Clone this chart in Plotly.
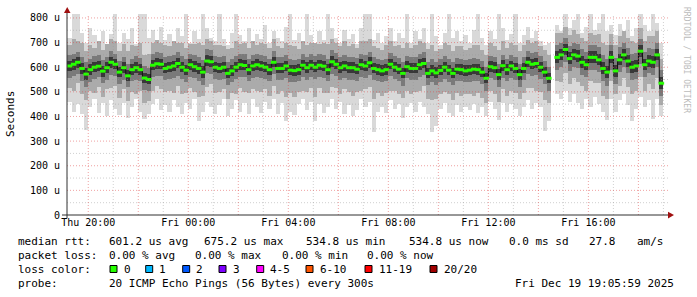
import plotly.graph_objects as go
import pandas as pd

# ---------------- data (values in microseconds) ----------------
T_START = "2025-12-18 19:10"     # first 10-minute sample
X_RANGE = ["2025-12-18 19:09", "2025-12-19 19:11"]

median = [605, 612, 620, 595, 572, 590, 600, 604, 584, 598, 620, 612,
          580, 598, 565, 590, 598, 590, 556, 550, 608, 614, 612, 595,
          600, 605, 615, 600, 588, 610, 602, 595, 580, 625, 622, 600,
          595, 600, 575, 585, 600, 610, 607, 590, 605, 610, 605, 600,
          590, 620, 595, 595, 605, 588, 586, 590, 608, 598, 608, 600,
          608, 604, 590, 622, 612, 598, 605, 598, 598, 592, 610, 605,
          618, 595, 590, 585, 590, 612, 600, 592, 575, 602, 595, 595,
          610, 615, 575, 585, 577, 587, 600, 588, 575, 592, 590, 585,
          588, 592, 590, 580, 555, 602, 598, 570, 606, 590, 605, 595,
          570, 595, 620, 612, 615, 600, 580, 555, None, 640, 650, 672,
          635, 650, 645, 620, 610, 640, 640, 630, 595, 580, 640, 585,
          630, 650, 625, 600, 605, 665, 610, 625, 620, 650, 535]

p40 = [585, 590, 598, 572, 550, 568, 580, 585, 562, 578, 598, 592,
       560, 578, 545, 570, 578, 570, 535, 530, 588, 594, 592, 575,
       580, 585, 595, 580, 568, 590, 582, 572, 558, 603, 600, 580,
       575, 580, 555, 565, 580, 590, 587, 570, 585, 590, 585, 580,
       570, 600, 575, 575, 585, 568, 566, 570, 588, 578, 588, 580,
       588, 584, 570, 602, 592, 578, 585, 578, 578, 572, 590, 585,
       598, 575, 570, 565, 570, 592, 580, 572, 555, 582, 575, 575,
       590, 595, 555, 565, 557, 567, 580, 568, 555, 572, 570, 565,
       568, 572, 570, 560, 535, 582, 578, 550, 586, 570, 585, 575,
       550, 575, 600, 592, 595, 580, 560, 535, None, 618, 628, 650,
       612, 628, 622, 598, 588, 618, 618, 608, 572, 556, 618, 562,
       608, 628, 602, 578, 582, 642, 588, 602, 598, 628, 512]

p60 = [625, 632, 640, 618, 595, 612, 622, 625, 606, 620, 640, 632,
       602, 620, 588, 612, 620, 612, 578, 572, 630, 636, 634, 618,
       622, 627, 637, 622, 610, 632, 624, 618, 605, 648, 645, 622,
       617, 622, 598, 608, 622, 632, 629, 612, 627, 632, 627, 622,
       612, 642, 617, 617, 627, 610, 608, 612, 630, 620, 630, 622,
       630, 626, 612, 644, 634, 620, 627, 620, 620, 614, 632, 627,
       640, 617, 612, 607, 612, 634, 622, 614, 598, 624, 617, 617,
       632, 637, 598, 608, 600, 610, 622, 610, 598, 614, 612, 607,
       610, 614, 612, 602, 578, 624, 620, 592, 628, 612, 627, 617,
       592, 617, 642, 634, 637, 622, 602, 578, None, 665, 675, 695,
       660, 675, 670, 645, 635, 665, 665, 655, 620, 605, 665, 610,
       655, 675, 650, 625, 630, 690, 635, 650, 645, 675, 562]

p25 = [558, 565, 572, 545, 520, 540, 552, 560, 535, 550, 570, 565,
       532, 550, 518, 542, 550, 545, 508, 502, 560, 566, 565, 548,
       552, 558, 566, 552, 540, 562, 555, 542, 528, 575, 572, 552,
       548, 552, 528, 538, 552, 562, 560, 542, 558, 562, 558, 552,
       542, 572, 548, 548, 555, 540, 538, 542, 560, 550, 560, 552,
       560, 556, 542, 574, 565, 550, 558, 550, 550, 545, 562, 558,
       570, 548, 542, 538, 542, 565, 552, 545, 525, 555, 548, 548,
       562, 568, 528, 538, 528, 540, 552, 540, 528, 545, 542, 538,
       540, 545, 542, 532, 505, 555, 550, 520, 558, 542, 558, 548,
       520, 548, 572, 565, 568, 552, 532, 505, None, 590, 600, 622,
       585, 600, 595, 570, 560, 590, 590, 580, 542, 525, 590, 532,
       580, 600, 575, 548, 552, 615, 560, 575, 570, 600, 485]

p75 = [648, 655, 662, 640, 622, 635, 645, 650, 630, 642, 665, 655,
       625, 642, 612, 635, 645, 638, 605, 598, 652, 660, 658, 640,
       645, 650, 660, 645, 632, 655, 648, 642, 630, 672, 668, 645,
       640, 645, 622, 632, 645, 655, 652, 635, 650, 655, 650, 645,
       635, 665, 640, 640, 650, 632, 630, 635, 652, 642, 652, 645,
       652, 648, 635, 668, 658, 642, 650, 642, 642, 636, 655, 650,
       662, 640, 635, 630, 635, 656, 645, 636, 622, 646, 640, 640,
       655, 660, 622, 632, 622, 632, 645, 635, 622, 636, 635, 630,
       632, 636, 635, 625, 602, 646, 642, 615, 650, 635, 650, 640,
       615, 640, 665, 658, 660, 645, 625, 602, None, 690, 700, 718,
       685, 700, 695, 672, 662, 690, 690, 682, 648, 632, 690, 638,
       682, 700, 676, 652, 656, 715, 662, 676, 672, 700, 590]

p10 = [515, 505, 535, 490, 465, 505, 495, 520, 480, 510, 515, 525,
       475, 510, 462, 500, 490, 505, 455, 462, 505, 525, 510, 500,
       505, 495, 525, 490, 495, 515, 500, 480, 485, 520, 530, 495,
       500, 510, 470, 495, 490, 515, 500, 495, 510, 505, 500, 510,
       485, 525, 490, 505, 480, 495, 480, 500, 505, 500, 515, 480,
       515, 495, 495, 520, 515, 490, 510, 500, 485, 500, 505, 510,
       520, 470, 495, 485, 495, 505, 505, 490, 475, 505, 490, 500,
       505, 525, 470, 465, 470, 490, 500, 490, 465, 495, 485, 490,
       490, 485, 495, 475, 455, 505, 490, 460, 510, 485, 505, 495,
       470, 495, 515, 515, 505, 500, 465, 455, None, 545, 540, 575,
       530, 555, 540, 525, 505, 545, 535, 535, 485, 470, 545, 490,
       525, 555, 520, 490, 505, 560, 505, 530, 510, 555, 445]

p90 = [690, 715, 705, 700, 665, 690, 680, 705, 670, 695, 715, 705,
       665, 695, 665, 690, 685, 700, 650, 655, 700, 710, 700, 690,
       685, 705, 700, 700, 680, 695, 695, 700, 690, 715, 705, 690,
       690, 685, 675, 680, 705, 695, 700, 680, 705, 690, 700, 695,
       680, 715, 685, 680, 700, 690, 685, 675, 705, 690, 700, 700,
       695, 700, 695, 715, 700, 685, 705, 685, 695, 680, 705, 705,
       715, 685, 680, 670, 690, 705, 685, 690, 680, 700, 680, 690,
       705, 700, 675, 690, 665, 675, 700, 690, 665, 685, 685, 670,
       680, 690, 690, 670, 650, 700, 685, 670, 705, 680, 700, 690,
       665, 690, 710, 700, 705, 685, 670, 650, None, 740, 740, 765,
       730, 750, 735, 720, 705, 740, 730, 735, 700, 690, 735, 690,
       725, 745, 720, 705, 700, 760, 705, 725, 725, 745, 635]

pmin = [460, 420, 450, 410, 345, 440, 470, 415, 455, 400, 465, 430,
        405, 455, 395, 440, 470, 420, 390, 410, 450, 470, 425, 445,
        420, 465, 440, 410, 455, 430, 470, 380, 420, 460, 440, 410,
        445, 470, 400, 430, 465, 420, 455, 410, 470, 440, 415, 460,
        430, 470, 410, 455, 380, 420, 405, 450, 470, 425, 460, 380,
        450, 415, 440, 470, 430, 460, 410, 445, 400, 425, 470, 440,
        460, 335, 420, 440, 415, 465, 430, 450, 395, 440, 455, 420,
        460, 440, 410, 335, 360, 430, 455, 415, 400, 445, 420, 440,
        425, 450, 415, 440, 400, 460, 430, 385, 455, 420, 450, 430,
        400, 440, 465, 430, 455, 440, 340, 380, None, 490, 470, 505,
        460, 490, 455, 430, 470, 440, 480, 450, 420, 385, 470, 420,
        465, 490, 445, 380, 430, 480, 440, 465, 390, 470, 400]

pmax = [720, 850, 850, 740, 700, 760, 730, 705, 745, 690, 735, 850,
        700, 740, 715, 760, 695, 850, 850, 720, 750, 700, 765, 710,
        735, 700, 760, 725, 850, 700, 745, 715, 850, 760, 720, 705,
        850, 715, 690, 740, 850, 730, 705, 760, 700, 735, 715, 770,
        700, 745, 720, 705, 765, 850, 710, 740, 700, 850, 730, 695,
        745, 710, 850, 760, 720, 700, 750, 715, 735, 695, 760, 850,
        850, 710, 740, 700, 725, 760, 705, 740, 720, 850, 700, 745,
        715, 760, 700, 850, 725, 690, 740, 850, 720, 745, 705, 730,
        700, 750, 850, 720, 690, 745, 715, 850, 760, 710, 735, 850,
        700, 730, 765, 720, 745, 705, 690, 700, None, 770, 745, 850,
        760, 790, 850, 740, 765, 850, 750, 780, 850, 745, 770, 730,
        775, 740, 790, 725, 760, 850, 770, 745, 850, 780, 700]

y_ticks = [0, 100, 200, 300, 400, 500, 600, 700, 800]
y_ticktext = ["0", "100 u", "200 u", "300 u", "400 u", "500 u", "600 u", "700 u", "800 u"]
x_major = pd.date_range("2025-12-18 20:00", "2025-12-19 18:00", freq="2h")
x_labels = ["Thu 20:00", "", "Fri 00:00", "", "Fri 04:00", "", "Fri 08:00", "",
            "Fri 12:00", "", "Fri 16:00", ""]
x_minor = pd.date_range("2025-12-18 21:00", "2025-12-19 19:00", freq="2h")
y_minor = [50, 150, 250, 350, 450, 550, 650, 750]

loss_labels = ["0", "1", "2", "3", "4-5", "6-10", "11-19", "20/20"]
loss_colors = ["#26ff00", "#00b8ff", "#0059ff", "#7e00ff", "#ff00ff", "#ff5500", "#ff0000", "#a10000"]

# ---------------- figure ----------------
W, H = 697, 297
L, R, T, B = 67, 29, 14, 82
PW, PH = W - L - R, H - T - B


def px(x):
    return (x - L) / PW


def py(y):
    return (H - B - y) / PH


times = pd.date_range(T_START, periods=len(median), freq="10min")
centers = times + pd.Timedelta(minutes=5)


def span(lo, hi):
    return [None if (a is None or b is None) else b - a for a, b in zip(lo, hi)]


fig = go.Figure()
for lo, hi, col in [(pmin, pmax, "#d9d9d9"), (p10, p90, "#ababab"),
                    (p25, p75, "#7a7a7a"), (p40, p60, "#383838")]:
    fig.add_trace(go.Bar(x=centers, y=span(lo, hi), base=lo, width=600000,
                         marker=dict(color=col, line=dict(width=0)),
                         hoverinfo="skip"))

fig.add_trace(go.Scatter(x=centers, y=median, mode="lines",
                         line=dict(color="#101010", width=1, shape="hvh"),
                         connectgaps=False, hoverinfo="skip"))
fig.add_trace(go.Scatter(x=centers, y=median, mode="markers",
                         marker=dict(symbol="line-ew", size=4,
                                     line=dict(color="#26ff00", width=3)),
                         hoverinfo="skip"))

shapes = []
MAJ = "rgba(225,70,70,0.5)"
MIN = "rgba(150,150,150,0.45)"
DASH = "1px,2px"
for v in y_minor:
    shapes.append(dict(type="line", xref="paper", yref="y", x0=0, x1=1, y0=v, y1=v,
                       line=dict(color=MIN, width=1, dash=DASH), layer="above"))
for t in x_minor:
    shapes.append(dict(type="line", xref="x", yref="paper", x0=t, x1=t, y0=0, y1=1,
                       line=dict(color=MIN, width=1, dash=DASH), layer="above"))
for v in y_ticks[1:]:
    shapes.append(dict(type="line", xref="paper", yref="y", x0=0, x1=1, y0=v, y1=v,
                       line=dict(color=MAJ, width=1, dash=DASH), layer="above"))
for t in x_major:
    shapes.append(dict(type="line", xref="x", yref="paper", x0=t, x1=t, y0=0, y1=1,
                       line=dict(color=MAJ, width=1, dash=DASH), layer="above"))

# axes lines + arrows
shapes.append(dict(type="line", xref="paper", yref="paper", x0=px(67), x1=px(67),
                   y0=py(218), y1=py(12), line=dict(color="#303030", width=1), layer="above"))
shapes.append(dict(type="line", xref="paper", yref="paper", x0=px(62), x1=px(669),
                   y0=py(215), y1=py(215), line=dict(color="#303030", width=1), layer="above"))
shapes.append(dict(type="path", xref="paper", yref="paper",
                   path=f"M {px(64)},{py(13)} L {px(70.5)},{py(13)} L {px(67.2)},{py(7)} Z",
                   fillcolor="#a01010", line=dict(width=0), layer="above"))
shapes.append(dict(type="path", xref="paper", yref="paper",
                   path=f"M {px(668)},{py(211.8)} L {px(668)},{py(218.4)} L {px(674)},{py(215.1)} Z",
                   fillcolor="#a01010", line=dict(width=0), layer="above"))

ann = []
FONT = "DejaVu Sans Mono"


def text(s, x, y, size=11, color="black", angle=0, xanchor="left"):
    ann.append(dict(text=s, x=px(x), y=py(y), xref="paper", yref="paper",
                    xanchor=xanchor, yanchor="middle", showarrow=False,
                    textangle=angle, font=dict(family=FONT, size=size, color=color)))


rows = {
    241: [("median rtt:", 16), ("601.2 us avg", 107), ("675.2 us max", 202),
          ("534.8 us min", 304), ("534.8 us now", 406.7), ("0.0 ms sd", 507.3),
          ("27.8", 586.7), ("am/s", 635)],
    255: [("packet loss:", 16), ("0.00 % avg", 107), ("0.00 % max", 193),
          ("0.00 % min", 280), ("0.00 % now", 365)],
    283: [("probe:", 16), ("20 ICMP Echo Pings (56 Bytes) every 300s", 107),
          ("Fri Dec 19 19:05:59 2025", 513.3)],
}
for yv, items in rows.items():
    for s, xv in items:
        text(s, xv, yv)

text("loss color:", 16, 269)
box_x = [110, 145.7, 182.7, 219, 256.7, 306, 365, 430]
for lab, col, bx in zip(loss_labels, loss_colors, box_x):
    shapes.append(dict(type="rect", xref="paper", yref="paper",
                       x0=px(bx), x1=px(bx + 7), y0=py(272.5), y1=py(265.5),
                       fillcolor=col, line=dict(color="black", width=1), layer="above"))
    text(lab, bx + 11.5, 269)

text("Seconds", 11, 114, angle=-90, xanchor="center")
text("RRDTOOL / TOBI OETIKER", 686, 60, size=8, color="#bbbbbb", angle=90, xanchor="center")

fig.update_layout(
    width=W, height=H, margin=dict(l=L, r=R, t=T, b=B),
    paper_bgcolor="white", plot_bgcolor="white",
    showlegend=False, barmode="overlay", bargap=0,
    font=dict(family=FONT, size=10, color="black"),
    shapes=shapes, annotations=ann,
)
fig.update_xaxes(type="date", range=X_RANGE, tickmode="array", tickvals=x_major,
                 ticktext=x_labels, showgrid=False, zeroline=False, showline=False,
                 ticks="", tickfont=dict(family=FONT, size=10, color="black"))
fig.update_yaxes(range=[0, 816], tickmode="array", tickvals=y_ticks, ticktext=y_ticktext,
                 showgrid=False, zeroline=False, showline=False, ticks="",
                 ticklabelstandoff=6, tickfont=dict(family=FONT, size=10, color="black"))

fig.write_html("out.html")
